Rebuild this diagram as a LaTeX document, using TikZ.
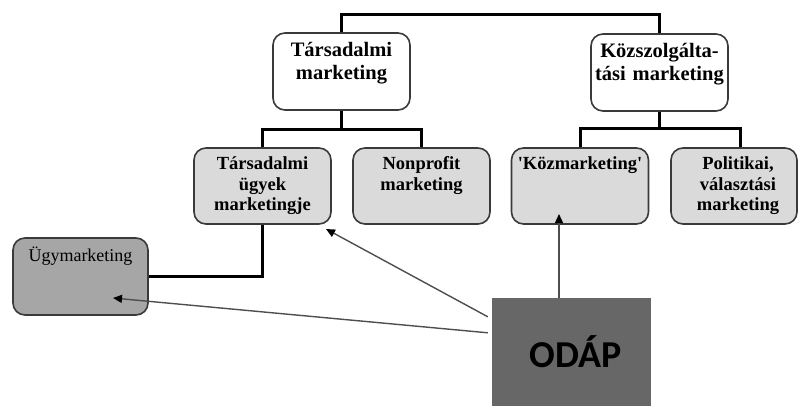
\documentclass[tikz,border=0pt]{standalone}
\usepackage{fontspec}
\setmainfont{Liberation Serif}
\newfontfamily\odapfont{Carlito}
\usepackage{xcolor}
\usetikzlibrary{arrows.meta,positioning,calc}
\definecolor{bline}{HTML}{3A3A3A}
\definecolor{glight}{HTML}{DADADA}
\definecolor{gmid}{HTML}{A6A6A6}
\definecolor{gdark}{HTML}{676767}
\definecolor{aline}{HTML}{4E4E4E}

\begin{document}
\begin{tikzpicture}[x=1pt,y=-1pt,
  topbox/.style={draw=bline,line width=1.6pt,rounded corners=12pt,fill=white,minimum width=137pt,minimum height=77pt,inner sep=0pt},
  subbox/.style={topbox,fill=glight,minimum height=76pt},
  toptext/.style={anchor=base,text width=135pt,align=center,inner sep=0pt,font=\fontsize{20.5}{23}\selectfont\bfseries},
  subtext/.style={toptext,font=\fontsize{18.5}{20.5}\selectfont\bfseries},
  tree/.style={line width=3pt},
  pointer/.style={aline,line width=1.4pt,-{Triangle[length=9pt,width=8pt,color=black]}}]
  \useasboundingbox (0,0) rectangle (798,405);

  \node[topbox] (tm) at (341.5,71.5) {};
  \node[topbox] (ksz) at (659.5,72.5) {};
  \node[toptext] (tm-t) at ($(tm.north)+(0,24)$) {Társadalmi\\marketing};
  \node[toptext] (ksz-t) at ($(ksz.north)+(0,24)$) {Közszolgálta-\\tási marketing};

  \node[subbox] (tug) at (262.5,186) {};
  \node[subbox] (npm) at (421.5,186) {};
  \node[subbox] (kzm) at (580,186) {};
  \node[subbox,minimum width=126pt] (pol) at (734,186) {};
  \node[subtext] (tug-t) at ($(tug.north)+(0,22.5)$) {Társadalmi\\ügyek\\marketingje};
  \node[subtext] (npm-t) at ($(npm.north)+(0,22.5)$) {Nonprofit\\marketing};
  \node[subtext] (kzm-t) at ($(kzm.north)+(0,22.5)$) {\textquotesingle Közmarketing\textquotesingle};
  \node[subtext] (pol-t) at ($(pol.north)+(4,22.5)$) {Politikai,\\választási\\marketing};

  \node[subbox,fill=gmid,minimum width=135pt,minimum height=77pt] (ugy) at (80.5,276.5) {};
  \node[anchor=base,inner sep=0pt,font=\fontsize{18}{20}\selectfont] (ugy-t) at ($(ugy.north)+(0,24)$) {Ügymarketing};

  \node[fill=gdark,minimum width=159pt,minimum height=112pt,inner sep=0pt] (odap) at (571.5,354) {};
  \node[anchor=base,inner sep=0pt,font=\odapfont\bfseries\fontsize{38}{40}\selectfont] (odap-t) at ($(odap.north)+(4,70)$) {ODÁP};

  \draw[tree] (tm.north) -- ++(0,-18) -| (ksz.north);
  \draw[tree] (tm.south) -- ++(0,19) coordinate (tm-fork) -| (tug.north);
  \draw[tree] (tm-fork) -| (npm.north);
  \draw[tree] (ksz.south) -- ++(0,17) coordinate (ksz-fork) -| (kzm.north);
  \draw[tree] (ksz-fork) -| ([xshift=6pt]pol.north);
  \draw[tree] (tug.south) |- (ugy.east);

  \coordinate (kzm-tip) at (559,214);
  \coordinate (tug-tip) at (326,229);
  \coordinate (ugy-tip) at (113,298);
  \draw[pointer] (odap.north -| kzm-tip) -- (kzm-tip);
  \draw[pointer] ($(odap.north west)+(-4,19)$) -- (tug-tip);
  \draw[pointer] ($(odap.north west)+(-4,35)$) -- (ugy-tip);
\end{tikzpicture}
\end{document}
